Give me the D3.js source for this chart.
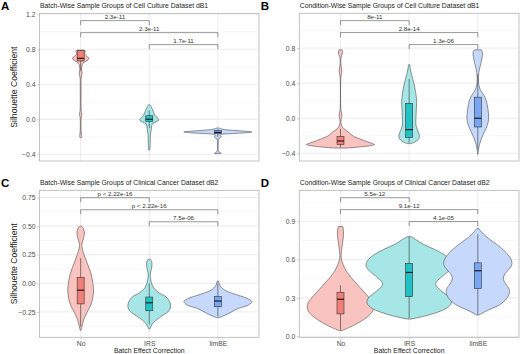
<!DOCTYPE html>
<html>
<head>
<meta charset="utf-8">
<script src="https://d3js.org/d3.v7.min.js"></script>
<style>
  body { margin: 0; background: #fff; }
  text { font-family: "Liberation Sans", Arial, sans-serif; }
</style>
</head>
<body>
<svg id="chart" width="520" height="354"></svg>
<script>
// categories and comparisons
const groups = ["No", "IRS", "limBE"];
const pairs = [["No", "IRS"], ["No", "limBE"], ["IRS", "limBE"]];

// violin profiles: [value, relative half width]
const aNo = [[0.79,0.10],[0.775,0.14],[0.76,0.12],[0.74,0.13],[0.72,0.18],[0.70,0.24],[0.68,0.22],[0.66,0.14],[0.64,0.07],[0.61,0.035],[0.57,0.025],[0.54,0.04],[0.51,0.035],[0.47,0.015],[0.35,0.012],[0.15,0.012],[0.09,0.02],[0.06,0.035],[0.03,0.02],[0.0,0.012],[-0.12,0.012],[-0.17,0.02],[-0.195,0.03],[-0.21,0.015]];
const aIRS = [[0.165,0.02],[0.14,0.06],[0.10,0.11],[0.06,0.15],[0.03,0.2],[0.01,0.26],[-0.01,0.28],[-0.03,0.2],[-0.05,0.1],[-0.08,0.07],[-0.12,0.06],[-0.16,0.04],[-0.22,0.03],[-0.28,0.03],[-0.32,0.025],[-0.35,0.02]];
const aLim = [[-0.10,0.03],[-0.115,0.15],[-0.125,0.4],[-0.135,0.75],[-0.145,1.0],[-0.155,0.8],[-0.165,0.35],[-0.175,0.1],[-0.185,0.06],[-0.195,0.1],[-0.205,0.09],[-0.215,0.05],[-0.24,0.015],[-0.3,0.012],[-0.36,0.015],[-0.38,0.06],[-0.39,0.1]];

const bNo = [[0.78,0.05],[0.76,0.06],[0.73,0.05],[0.70,0.02],[0.62,0.012],[0.57,0.03],[0.54,0.04],[0.51,0.03],[0.47,0.012],[0.1,0.012],[0.05,0.035],[0.02,0.04],[-0.01,0.02],[-0.05,0.015],[-0.09,0.04],[-0.12,0.1],[-0.16,0.24],[-0.2,0.36],[-0.24,0.6],[-0.27,0.8],[-0.29,0.95],[-0.30,1.0],[-0.315,0.85],[-0.33,0.5],[-0.34,0.2]];
const bIRS = [[0.61,0.02],[0.55,0.04],[0.5,0.07],[0.4,0.14],[0.3,0.19],[0.2,0.22],[0.1,0.21],[0.0,0.2],[-0.08,0.2],[-0.14,0.25],[-0.19,0.3],[-0.23,0.29],[-0.26,0.22],[-0.28,0.12],[-0.29,0.05]];
const bLim = [[0.78,0.10],[0.75,0.14],[0.70,0.13],[0.64,0.1],[0.58,0.06],[0.52,0.03],[0.45,0.02],[0.38,0.03],[0.32,0.08],[0.26,0.18],[0.2,0.25],[0.1,0.3],[0.0,0.32],[-0.08,0.28],[-0.15,0.2],[-0.22,0.12],[-0.3,0.05],[-0.36,0.02],[-0.41,0.01]];

const cNo = [[0.50,0.02],[0.48,0.08],[0.44,0.11],[0.40,0.09],[0.36,0.05],[0.33,0.035],[0.30,0.05],[0.25,0.1],[0.17,0.2],[0.08,0.31],[0.0,0.36],[-0.06,0.38],[-0.12,0.36],[-0.18,0.31],[-0.23,0.23],[-0.27,0.16],[-0.31,0.1],[-0.35,0.06],[-0.39,0.03],[-0.41,0.01]];
const cIRS = [[0.21,0.03],[0.19,0.07],[0.16,0.08],[0.12,0.06],[0.08,0.03],[0.04,0.04],[0.0,0.07],[-0.04,0.13],[-0.08,0.27],[-0.12,0.5],[-0.16,0.6],[-0.2,0.63],[-0.24,0.58],[-0.27,0.45],[-0.30,0.3],[-0.33,0.17],[-0.36,0.08],[-0.39,0.03],[-0.40,0.01]];
const cLim = [[0.02,0.02],[-0.02,0.06],[-0.06,0.2],[-0.1,0.55],[-0.13,0.85],[-0.16,1.0],[-0.19,0.9],[-0.22,0.6],[-0.25,0.4],[-0.27,0.28],[-0.29,0.12],[-0.30,0.03]];

const dNo = [[0.86,0.07],[0.84,0.08],[0.79,0.09],[0.73,0.06],[0.67,0.03],[0.63,0.02],[0.59,0.04],[0.53,0.13],[0.47,0.28],[0.41,0.48],[0.35,0.68],[0.30,0.85],[0.25,0.97],[0.20,0.95],[0.15,0.78],[0.11,0.55],[0.08,0.35],[0.06,0.18],[0.045,0.05]];
const dIRS = [[0.78,0.05],[0.76,0.18],[0.72,0.42],[0.68,0.75],[0.64,1.02],[0.60,1.2],[0.56,1.27],[0.52,1.2],[0.48,1.02],[0.44,0.85],[0.41,0.78],[0.38,0.84],[0.34,1.02],[0.30,1.2],[0.26,1.24],[0.22,1.1],[0.19,0.85],[0.16,0.48],[0.14,0.15],[0.135,0.05]];
const dLim = [[0.843,0.03],[0.82,0.1],[0.78,0.25],[0.74,0.45],[0.70,0.65],[0.65,0.85],[0.60,0.98],[0.56,1.0],[0.52,0.9],[0.48,0.78],[0.45,0.75],[0.41,0.82],[0.37,0.92],[0.33,0.92],[0.28,0.8],[0.24,0.6],[0.21,0.35],[0.18,0.12],[0.167,0.05]];

// boxplots: [lower whisker, q1, median, q3, upper whisker]
const boxesA = [[0.55,0.666,0.697,0.785,0.79],[-0.1,-0.025,0.0,0.04,0.1],[-0.2,-0.165,-0.15,-0.13,-0.11]];
const boxesB = [[-0.33,-0.30,-0.26,-0.21,-0.12],[-0.28,-0.22,-0.13,0.17,0.45],[-0.36,-0.10,0.0,0.24,0.5]];
const boxesC = [[-0.38,-0.18,-0.06,0.05,0.22],[-0.36,-0.24,-0.17,-0.12,0.0],[-0.29,-0.205,-0.155,-0.115,0.0]];
const boxesD = [[0.05,0.175,0.29,0.345,0.40],[0.14,0.31,0.50,0.57,0.78],[0.17,0.375,0.513,0.575,0.80]];

// significance labels and bracket heights
const pvalsA = ["2.3e-11", "2.3e-11", "1.7e-11"];
const pvalsB = ["8e-11", "2.8e-14", "1.3e-06"];
const pvalsC = ["p < 2.22e-16", "p < 2.22e-16", "7.5e-06"];
const pvalsD = ["5.5e-12", "9.1e-12", "4.1e-05"];
const bracketA = [1.127, 0.990, 0.853];
const bracketB = [1.113, 0.977, 0.840];
const bracketC = [0.748, 0.643, 0.538];
const bracketD = [1.085, 0.992, 0.898];

// axis ticks and titles
const ticksA = [-0.4, 0, 0.4, 0.8, 1.2];
const ticksB = [-0.4, 0, 0.4, 0.8];
const ticksC = [-0.25, 0, 0.25, 0.5, 0.75];
const ticksD = [0, 0.3, 0.6, 0.9];
const titles = [
  "Batch-Wise Sample Groups of Cell Culture Dataset dB1",
  "Condition-Wise Sample Groups of Cell Culture Dataset dB1",
  "Batch-Wise Sample Groups of Clinical Cancer Dataset dB2",
  "Condition-Wise Sample Groups of Clinical Cancer Dataset dB2"
];

const lightFill = ["#f9c3bf", "#a6e6e6", "#c6d8fb"];
const boxFill = ["#f17f77", "#22c1c3", "#78a6f5"];

const svg = d3.select("#chart");
svg.append("rect").attr("width", 520).attr("height", 354).attr("fill", "#fff");

const cols = [[39.5, 259], [299.3, 519]];
const rows = [[13.3, 161], [190.3, 337.3]];

const panels = [
  { letter: "A", col: 0, row: 0, domain: [-0.477, 1.211], ticks: ticksA, fmt: ".1f", violins: [aNo, aIRS, aLim], boxes: boxesA, pvals: pvalsA, brackets: bracketA, ytitle: true, xaxis: false },
  { letter: "B", col: 1, row: 0, domain: [-0.488, 1.197], ticks: ticksB, fmt: ".1f", violins: [bNo, bIRS, bLim], boxes: boxesB, pvals: pvalsB, brackets: bracketB, ytitle: false, xaxis: false },
  { letter: "C", col: 0, row: 1, domain: [-0.472, 0.813], ticks: ticksC, fmt: ".2f", violins: [cNo, cIRS, cLim], boxes: boxesC, pvals: pvalsC, brackets: bracketC, ytitle: true, xaxis: true },
  { letter: "D", col: 1, row: 1, domain: [-0.008, 1.143], ticks: ticksD, fmt: ".1f", violins: [dNo, dIRS, dLim], boxes: boxesD, pvals: pvalsD, brackets: bracketD, ytitle: false, xaxis: true }
];

const wScale = d3.scaleLinear().domain([0, 1]).range([0, 34]);

panels.forEach((p, i) => {
  const [left, right] = cols[p.col];
  const [top, bottom] = rows[p.row];
  const x = d3.scalePoint().domain(groups).range([left, right]).padding(0.6);
  const y = d3.scaleLinear().domain(p.domain).range([bottom, top]);
  const g = svg.append("g");

  // minor + major grid
  const minor = [];
  for (let k = 0; k < p.ticks.length + 1; k++) {
    const step = p.ticks[1] - p.ticks[0];
    const v = p.ticks[0] - step / 2 + k * step;
    if (v > p.domain[0] && v < p.domain[1]) minor.push(v);
  }
  g.selectAll("line.minor").data(minor).join("line")
    .attr("x1", left).attr("x2", right)
    .attr("y1", d => y(d)).attr("y2", d => y(d))
    .attr("stroke", "#f0f0f0").attr("stroke-width", 0.5);
  g.selectAll("line.major").data(p.ticks).join("line")
    .attr("x1", left).attr("x2", right)
    .attr("y1", d => y(d)).attr("y2", d => y(d))
    .attr("stroke", "#e3e3e3").attr("stroke-width", 0.7);
  g.selectAll("line.vgrid").data(groups).join("line")
    .attr("x1", d => x(d)).attr("x2", d => x(d))
    .attr("y1", top).attr("y2", bottom)
    .attr("stroke", "#e3e3e3").attr("stroke-width", 0.7);

  // violins
  p.violins.forEach((prof, j) => {
    const cx = x(groups[j]);
    const area = d3.area()
      .curve(d3.curveCatmullRom.alpha(0.5))
      .y(d => y(d[0]))
      .x0(d => cx - wScale(d[1]))
      .x1(d => cx + wScale(d[1]));
    g.append("path").datum(prof)
      .attr("d", area)
      .attr("fill", lightFill[j])
      .attr("stroke", "#4d4d4d")
      .attr("stroke-width", 0.6);
  });

  // boxplots
  p.boxes.forEach((b, j) => {
    const cx = x(groups[j]);
    const hw = 3.5;
    g.append("line")
      .attr("x1", cx).attr("x2", cx)
      .attr("y1", y(b[0])).attr("y2", y(b[4]))
      .attr("stroke", "#333").attr("stroke-width", 0.6);
    g.append("rect")
      .attr("x", cx - hw).attr("width", hw * 2)
      .attr("y", y(b[3])).attr("height", y(b[1]) - y(b[3]))
      .attr("fill", boxFill[j])
      .attr("stroke", "#333").attr("stroke-width", 0.6);
    g.append("line")
      .attr("x1", cx - hw).attr("x2", cx + hw)
      .attr("y1", y(b[2])).attr("y2", y(b[2]))
      .attr("stroke", "#111").attr("stroke-width", 1.1);
  });

  // brackets
  pairs.forEach((pr, j) => {
    const x1 = x(pr[0]), x2 = x(pr[1]);
    const by = y(p.brackets[j]);
    g.append("path")
      .attr("d", `M${x1},${by + 4.5}V${by}H${x2}V${by + 4.5}`)
      .attr("fill", "none").attr("stroke", "#555").attr("stroke-width", 0.6);
    g.append("text")
      .attr("x", (x1 + x2) / 2).attr("y", by - 1.3)
      .attr("text-anchor", "middle")
      .attr("font-size", 6.2).attr("fill", "#333")
      .text(p.pvals[j]);
  });

  // border
  g.append("rect")
    .attr("x", left).attr("y", top)
    .attr("width", right - left).attr("height", bottom - top)
    .attr("fill", "none").attr("stroke", "#b3b3b3").attr("stroke-width", 0.8);

  // y axis
  const yAxis = g.append("g")
    .attr("transform", `translate(${left},0)`)
    .call(d3.axisLeft(y).tickValues(p.ticks).tickFormat(d3.format(p.fmt)).tickSize(2.5).tickPadding(1.5));
  yAxis.select(".domain").remove();
  yAxis.selectAll("line").attr("stroke", "#b3b3b3").attr("stroke-width", 0.6);
  yAxis.selectAll("text").attr("font-size", 6.8).attr("fill", "#4d4d4d")
    .attr("font-family", "Liberation Sans, Arial, sans-serif");

  if (p.xaxis) {
    const xAxis = g.append("g")
      .attr("transform", `translate(0,${bottom})`)
      .call(d3.axisBottom(x).tickSize(2.5).tickPadding(1.5));
    xAxis.select(".domain").remove();
    xAxis.selectAll("line").attr("stroke", "#b3b3b3").attr("stroke-width", 0.6);
    xAxis.selectAll("text").attr("font-size", 6.8).attr("fill", "#4d4d4d")
      .attr("font-family", "Liberation Sans, Arial, sans-serif");
    g.append("text")
      .attr("x", (left + right) / 2).attr("y", 353)
      .attr("text-anchor", "middle")
      .attr("font-size", 6.9).attr("fill", "#222")
      .text("Batch Effect Correction");
  }

  if (p.ytitle) {
    g.append("text")
      .attr("transform", `translate(17,${(top + bottom) / 2}) rotate(-90)`)
      .attr("text-anchor", "middle")
      .attr("font-size", 8.6).attr("fill", "#222")
      .text("Silhouette Coefficient");
  }

  // titles
  g.append("text")
    .attr("x", left + 0.5).attr("y", top - 5)
    .attr("font-size", 6.8).attr("fill", "#222")
    .text(titles[i]);
  g.append("text")
    .attr("x", left - 38.5).attr("y", top - 3.3)
    .attr("font-size", 11.5).attr("font-weight", "bold").attr("fill", "#000")
    .text(p.letter);
});
</script>
</body>
</html>
